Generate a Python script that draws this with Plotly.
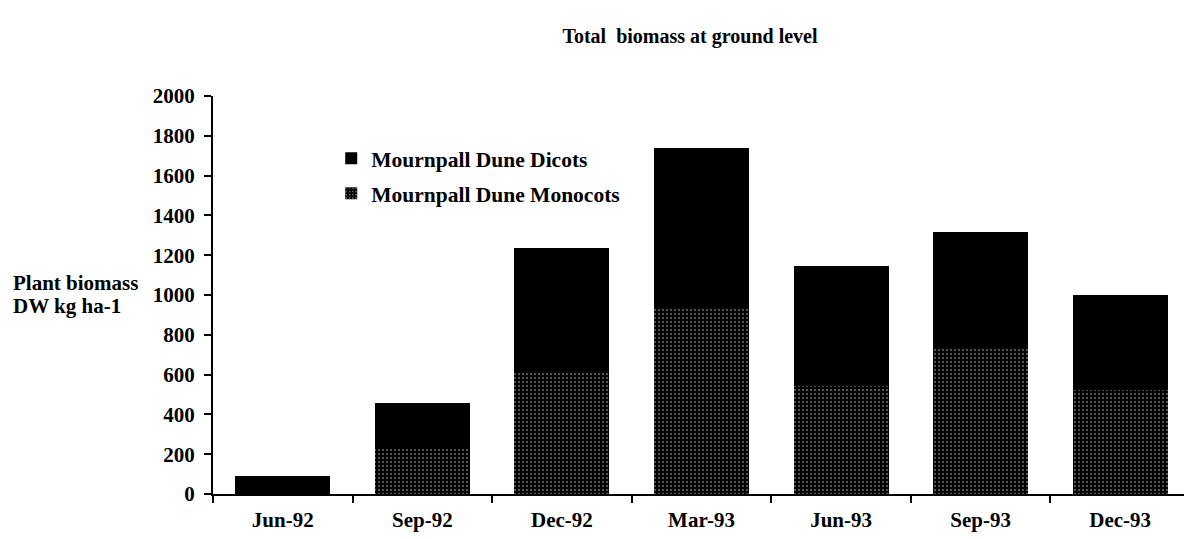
import plotly.graph_objects as go

months = ["Jun-92", "Sep-92", "Dec-92", "Mar-93", "Jun-93", "Sep-93", "Dec-93"]
monocots = [0, 225, 610, 940, 545, 740, 525]
dicots = [90, 230, 625, 800, 600, 577, 475]

FONT = "'Liberation Serif', 'Times New Roman', serif"

fig = go.Figure()

fig.add_trace(go.Bar(
    x=months, y=monocots, name="<b>Mournpall Dune Monocots</b>",
    legendrank=2, legendgroup="mono",
    marker=dict(color="#000000", line=dict(width=0),
                pattern=dict(shape=".", size=4, solidity=0.25,
                             fgcolor="#b0b0b0", bgcolor="#000000")),
))
fig.add_trace(go.Bar(
    x=months, y=dicots, name="<b>Mournpall Dune Dicots</b>",
    legendrank=1, legendgroup="di",
    marker=dict(color="#000000", line=dict(width=0)),
))

# page body adds 8px offset, so figure is sized a bit smaller
fig.update_layout(
    width=1184, height=531,
    barmode="stack", bargap=0.32,
    paper_bgcolor="white", plot_bgcolor="white",
    margin=dict(l=205, r=2, t=88, b=45),
    font=dict(family=FONT, size=21, color="black"),
    title=dict(text="<b>Total  biomass at ground level</b>", x=0.576, xanchor="center",
               y=0.947, yanchor="middle", font=dict(size=20)),
    showlegend=True,
    legend=dict(x=0.121, y=0.895, xanchor="left", yanchor="top",
                traceorder="grouped", tracegroupgap=4,
                bgcolor="rgba(0,0,0,0)", font=dict(size=21.5)),
    xaxis=dict(type="category", showline=True, linecolor="black", linewidth=2,
               ticks="outside", tickson="boundaries", ticklen=7, tickwidth=2,
               tickcolor="black", showgrid=False, zeroline=False,
               tickfont=dict(size=21), ticklabelstandoff=6,
               tickvals=months, ticktext=["<b>%s</b>" % m for m in months]),
    yaxis=dict(range=[0, 2000], tickvals=list(range(0, 2001, 200)),
               ticktext=["<b>%d</b>" % v for v in range(0, 2001, 200)],
               showline=True, linecolor="black", linewidth=2,
               ticks="outside", ticklen=7, tickwidth=2, tickcolor="black",
               showgrid=False, zeroline=False, tickfont=dict(size=21),
               ticklabelstandoff=5),
    xaxis2=dict(type="category", overlaying="x", range=[-0.5, 6.5],
                ticks="inside", tickson="boundaries", ticklen=7, tickwidth=2,
                tickcolor="black", showticklabels=False, showgrid=False,
                zeroline=False, showline=False, tickvals=months),
    yaxis2=dict(overlaying="y", range=[0, 2000], ticks="inside", ticklen=7,
                tickwidth=2, tickcolor="black", tickvals=list(range(0, 2001, 200)),
                showticklabels=False, showgrid=False, zeroline=False, showline=False),
)

fig.add_annotation(text="<b>Plant biomass</b>", xref="paper", yref="paper",
                   x=-0.2068, y=0.53, xanchor="left", yanchor="middle",
                   showarrow=False, font=dict(size=21))
fig.add_annotation(text="<b>DW kg ha-1</b>", xref="paper", yref="paper",
                   x=-0.2068, y=0.472, xanchor="left", yanchor="middle",
                   showarrow=False, font=dict(size=21))

fig.write_html("out.html")
